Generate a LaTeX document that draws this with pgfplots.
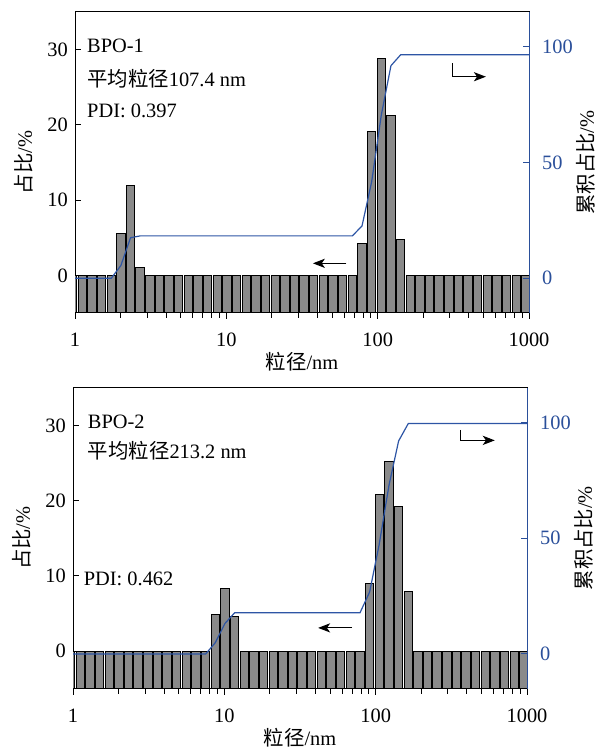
\documentclass[border=0pt]{standalone}
\usepackage{fontspec}
\setmainfont{Liberation Serif}
\newfontfamily\cjk{Noto Sans CJK SC}
\usepackage{pgfplots}
\usepackage{pgfplotstable}
\pgfplotsset{compat=1.18}
\usetikzlibrary{arrows.meta}

\definecolor{barGray}{RGB}{138,138,138}
\definecolor{cumBlue}{RGB}{45,85,165}
\definecolor{axBlue}{RGB}{42,79,154}

% Malvern size classes (nm), percentage per class, cumulative percentage
\pgfplotstableread{
d p c
0.8332 0 0
0.9650 0 0
1.117 0 0
1.294 0 0
1.499 0 0
1.736 0 0
2.010 5.6 5.5
2.328 12.0 17.5
2.696 1.1 18.3
3.122 0 18.3
3.615 0 18.3
4.187 0 18.3
4.849 0 18.3
5.615 0 18.3
6.503 0 18.3
7.531 0 18.3
8.721 0 18.3
10.10 0 18.3
11.70 0 18.3
13.54 0 18.3
15.69 0 18.3
18.17 0 18.3
21.04 0 18.3
24.36 0 18.3
28.21 0 18.3
32.67 0 18.3
37.84 0 18.3
43.82 0 18.3
50.75 0 18.3
58.77 0 18.3
68.06 0 18.3
78.82 4.3 22.6
91.28 19.1 41.7
105.7 28.8 70.5
122.4 21.2 91.8
141.8 4.7 96.5
164.2 0 96.5
190.1 0 96.5
220.2 0 96.5
255.0 0 96.5
295.3 0 96.5
342.0 0 96.5
396.1 0 96.5
458.7 0 96.5
531.2 0 96.5
615.1 0 96.5
712.4 0 96.5
825.0 0 96.5
955.4 0 96.5
1106 0 96.5
}\bpoone

\pgfplotstableread{
d p c
0.8332 0 0
0.9650 0 0
1.117 0 0
1.294 0 0
1.499 0 0
1.736 0 0
2.010 0 0
2.328 0 0
2.696 0 0
3.122 0 0
3.615 0 0
4.187 0 0
4.849 0 0
5.615 0 0
6.503 0 0
7.531 0 0
8.721 4.9 4.9
10.10 8.3 13.2
11.70 4.6 17.8
13.54 0 17.8
15.69 0 17.8
18.17 0 17.8
21.04 0 17.8
24.36 0 17.8
28.21 0 17.8
32.67 0 17.8
37.84 0 17.8
43.82 0 17.8
50.75 0 17.8
58.77 0 17.8
68.06 0 17.8
78.82 0 17.8
91.28 9.0 26.8
105.7 20.8 47.6
122.4 25.2 72.8
141.8 19.2 92.0
164.2 7.9 99.5
190.1 0 99.5
220.2 0 99.5
255.0 0 99.5
295.3 0 99.5
342.0 0 99.5
396.1 0 99.5
458.7 0 99.5
531.2 0 99.5
615.1 0 99.5
712.4 0 99.5
825.0 0 99.5
955.4 0 99.5
1106 0 99.5
}\bpotwo

\tikzset{
  barplot/.style={ybar, bar width=4.2pt, fill=barGray, draw=black, line width=0.5pt},
  cumplot/.style={cumBlue, line width=0.6pt, sharp plot},
  ann/.style={line width=0.5pt, -{Stealth[length=6pt,width=4.6pt,inset=1.6pt]}},
}

\begin{document}
\fontsize{10.2}{12.2}\selectfont
\begin{tikzpicture}
\path[use as bounding box] (0pt,0pt) rectangle (299pt,-373.5pt);

% ---------- BPO-1 ----------
\begin{axis}[
  at={(37.5pt,-6pt)}, anchor=north west,
  scale only axis, width=227pt, height=150.5pt,
  xmode=log, xmin=1, xmax=1000,
  y coord trafo/.code={\pgfmathparse{#1+5}},
  y coord inv trafo/.code={\pgfmathparse{#1-5}},
  ymin=-5, ymax=35,
  ytick={0,10,20,30}, yticklabels={0,10,20,30},
  xtick={1,10,100,1000}, xticklabels={1,10,100,1000},
  minor xtick={2,3,4,5,6,7,8,9,20,30,40,50,60,70,80,90,200,300,400,500,600,700,800,900},
  xtick pos=left, ytick pos=left,
  xtick align=outside, ytick align=inside,
  major tick length=3pt, minor tick length=2.5pt,
  tick style={black, line width=0.5pt},
  axis line style={line width=0.5pt},
  xticklabel style={yshift=-3.5pt},
  xlabel style={at={(rel axis cs:0.5,0)}, anchor=base, yshift=-28.5pt},
  xlabel={{\cjk 粒径}/nm},
  ylabel={{\cjk 占比}/\%},
]
  \addplot[barplot] table[x=d, y=p] {\bpoone};
  \node[anchor=base west, inner sep=0pt] at (rel axis cs:0.026,0.864) {BPO-1};
  \node[anchor=base west, inner sep=0pt] at (rel axis cs:0.026,0.754) {{\cjk 平均粒径}107.4 nm};
  \node[anchor=base west, inner sep=0pt] at (rel axis cs:0.026,0.651) {PDI: 0.397};
  \draw[ann] (rel axis cs:0.598,0.165) -- (rel axis cs:0.524,0.165);
  \draw[ann] (rel axis cs:0.831,0.830) -- (rel axis cs:0.831,0.785) -- (rel axis cs:0.905,0.785);
\end{axis}
\begin{axis}[
  at={(37.5pt,-6pt)}, anchor=north west,
  scale only axis, width=227pt, height=150.5pt,
  xmode=log, xmin=1, xmax=1000,
  ymin=-15, ymax=115,
  axis x line=none, axis y line*=right,
  y axis line style={draw=axBlue, line width=0.5pt},
  ytick={0,50,100}, yticklabels={0,50,100},
  ytick align=inside, major tick length=3pt,
  ytick style={draw=axBlue, line width=0.5pt},
  yticklabel style={text=axBlue, xshift=3pt},
  ylabel shift=-5pt,
  ylabel={{\cjk 累积占比}/\%},
]
  \addplot[cumplot, no marks] table[x=d, y=c] {\bpoone};
\end{axis}

% ---------- BPO-2 ----------
\begin{axis}[
  at={(36.5pt,-193.85pt)}, anchor=north west,
  scale only axis, width=227pt, height=150.5pt,
  xmode=log, xmin=1, xmax=1000,
  y coord trafo/.code={\pgfmathparse{#1+5}},
  y coord inv trafo/.code={\pgfmathparse{#1-5}},
  ymin=-5, ymax=35,
  ytick={0,10,20,30}, yticklabels={0,10,20,30},
  xtick={1,10,100,1000}, xticklabels={1,10,100,1000},
  minor xtick={2,3,4,5,6,7,8,9,20,30,40,50,60,70,80,90,200,300,400,500,600,700,800,900},
  xtick pos=left, ytick pos=left,
  xtick align=outside, ytick align=inside,
  major tick length=3pt, minor tick length=2.5pt,
  tick style={black, line width=0.5pt},
  axis line style={line width=0.5pt},
  xticklabel style={yshift=-3.5pt},
  xlabel style={at={(rel axis cs:0.5,0)}, anchor=base, yshift=-28.5pt},
  xlabel={{\cjk 粒径}/nm},
  ylabel={{\cjk 占比}/\%},
]
  \addplot[barplot] table[x=d, y=p] {\bpotwo};
  \node[anchor=base west, inner sep=0pt] at (rel axis cs:0.032,0.866) {BPO-2};
  \node[anchor=base west, inner sep=0pt] at (rel axis cs:0.032,0.766) {{\cjk 平均粒径}213.2 nm};
  \node[anchor=base west, inner sep=0pt] at (rel axis cs:0.023,0.343) {PDI: 0.462};
  \draw[ann] (rel axis cs:0.615,0.202) -- (rel axis cs:0.540,0.202);
  \draw[ann] (rel axis cs:0.853,0.860) -- (rel axis cs:0.853,0.825) -- (rel axis cs:0.929,0.825);
\end{axis}
\begin{axis}[
  at={(36.5pt,-193.85pt)}, anchor=north west,
  scale only axis, width=227pt, height=150.5pt,
  xmode=log, xmin=1, xmax=1000,
  ymin=-15, ymax=115,
  axis x line=none, axis y line*=right,
  y axis line style={draw=axBlue, line width=0.5pt},
  ytick={0,50,100}, yticklabels={0,50,100},
  ytick align=inside, major tick length=3pt,
  ytick style={draw=axBlue, line width=0.5pt},
  yticklabel style={text=axBlue, xshift=3pt},
  ylabel shift=-5pt,
  ylabel={{\cjk 累积占比}/\%},
]
  \addplot[cumplot, no marks] table[x=d, y=c] {\bpotwo};
\end{axis}
\end{tikzpicture}
\end{document}
